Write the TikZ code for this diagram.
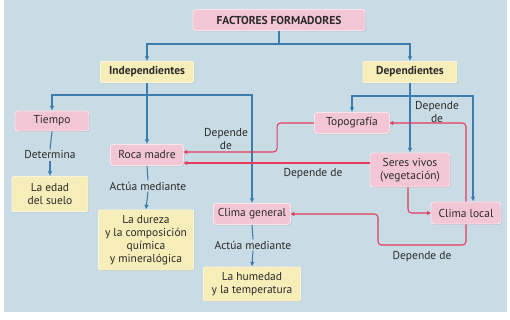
\documentclass[tikz,border=0pt]{standalone}
\usepackage{fontspec}
\setmainfont{PT Sans}
\usetikzlibrary{arrows.meta,calc,shadows}
\definecolor{panel}{HTML}{C9DBE4}
\definecolor{rosa}{HTML}{F3C6D6}
\definecolor{amarillo}{HTML}{F6EDB8}
\definecolor{azul}{HTML}{3C7DAE}
\definecolor{rojo}{HTML}{E63A5E}
\definecolor{texto}{HTML}{2A2A2A}

\begin{document}
\begin{tikzpicture}[x=0.03cm,y=-0.03cm,
        font=\fontsize{9.8}{11}\selectfont, text=texto,
        caja/.style={rounded corners=2.5pt, inner sep=1pt, align=center, line width=0.8pt,
            drop shadow={shadow xshift=0.8pt,shadow yshift=-0.8pt,opacity=0.3}},
        rosabox/.style={caja, fill=rosa, draw=white!55!rosa},
        amabox/.style={caja, fill=amarillo, draw=white!50!amarillo, rounded corners=1pt},
        etiq/.style={inner sep=1pt, align=center},
        azulline/.style={draw=azul, line width=0.9pt},
        flecha/.style={azulline, -{Latex[length=4pt,width=4pt]}},
        rojoline/.style={draw=rojo, line width=0.9pt, rounded corners=3pt,
            -{Latex[round,length=3.5pt,width=4pt]}}]

        \fill[white] (0,0) rectangle (510,320);
        \fill[panel] (4,0) rectangle (507,312);

        \node[rosabox, minimum width=5.16cm, minimum height=0.63cm] (fact) at (279,20) {\textbf{FACTORES FORMADORES}};
        \node[amabox, minimum width=2.79cm, minimum height=0.63cm] (indep) at (147,72) {\textbf{Independientes}};
        \node[amabox, minimum width=2.82cm, minimum height=0.63cm] (dep) at (410,72) {\textbf{Dependientes}};

        \node[rosabox, minimum width=2.22cm, minimum height=0.6cm] (tiempo) at (52,121) {Tiempo};
        \node[rosabox, minimum width=2.19cm, minimum height=0.63cm] (roca) at (147,155) {Roca madre};
        \node[rosabox, minimum width=2.31cm, minimum height=0.63cm] (cgen) at (252,214) {Clima general};
        \node[rosabox, minimum width=2.25cm, minimum height=0.63cm] (topo) at (352,123) {Topografía};
        \node[rosabox, minimum width=2.4cm, minimum height=1.02cm] (seres) at (410,170) {Seres vivos\\(vegetación)};
        \node[rosabox, minimum width=2.1cm, minimum height=0.66cm] (clocal) at (466,213) {Clima local};

        \node[amabox, minimum width=2.28cm, minimum height=1.05cm] (edad) at (50,194) {La edad\\del suelo};
        \node[amabox, minimum width=2.85cm, minimum height=1.8cm] (dureza) at (146,240) {La dureza\\y la composición\\química\\y mineralógica};
        \node[amabox, minimum width=2.91cm, minimum height=1.02cm] (humedad) at (252,284) {La humedad\\y la temperatura};

        \node[etiq] (det) at (50,155) {Determina};
        \node[etiq] (act1) at (148,186) {Actúa mediante};
        \node[etiq] (act2) at (253,245) {Actúa mediante};
        \node[etiq] (dep1) at (226,139) {Depende\\de};
        \node[etiq] (dep2) at (313,174) {Depende de};
        \node[etiq] (dep3) at (437,112) {Depende\\de};
        \node[etiq] (dep4) at (422,257) {Depende de};

        \coordinate (f1) at (fact.south |- 0,44);
        \coordinate (i1) at (indep.south |- 0,95);
        \coordinate (d1) at (dep.south |- 0,96);

        \draw[azulline] (fact.south) -- (f1);
        \draw[flecha] (f1) -| (indep.north);
        \draw[flecha] (f1) -| (dep.north);

        \draw[flecha] (indep.south) -- (roca.north);
        \draw[flecha] (i1) -| (tiempo.north);
        \draw[flecha] (i1) -| (cgen.north);

        \draw[flecha] (dep.south) -- (seres.north);
        \draw[flecha] (d1) -| (topo.north);
        \draw[flecha] (d1) -| ($(clocal.north)+(7,0)$);

        \draw[azulline] (tiempo.south) -- (det.north);
        \draw[flecha] (det.south) -- (edad.north);
        \draw[azulline] (roca.south) -- (act1.north);
        \draw[flecha] (act1.south) -- (dureza.north);
        \draw[azulline] (cgen.south) -- (act2.north);
        \draw[flecha] (act2.south) -- (humedad.north);

        \draw[rojoline] (topo.west) -- ++(-37,0) |- ($(roca.east)+(0,-3)$);
        \draw[rojoline] (seres.west |- 0,163) -- (roca.east |- 0,163);
        \draw[rojoline] (clocal.north) |- (topo.east);
        \draw[rojoline] ($(seres.south)+(-2,0)$) |- (clocal.west);
        \draw[rojoline] (clocal.south) |- (378,245) |- (cgen.east);
\end{tikzpicture}
\end{document}
